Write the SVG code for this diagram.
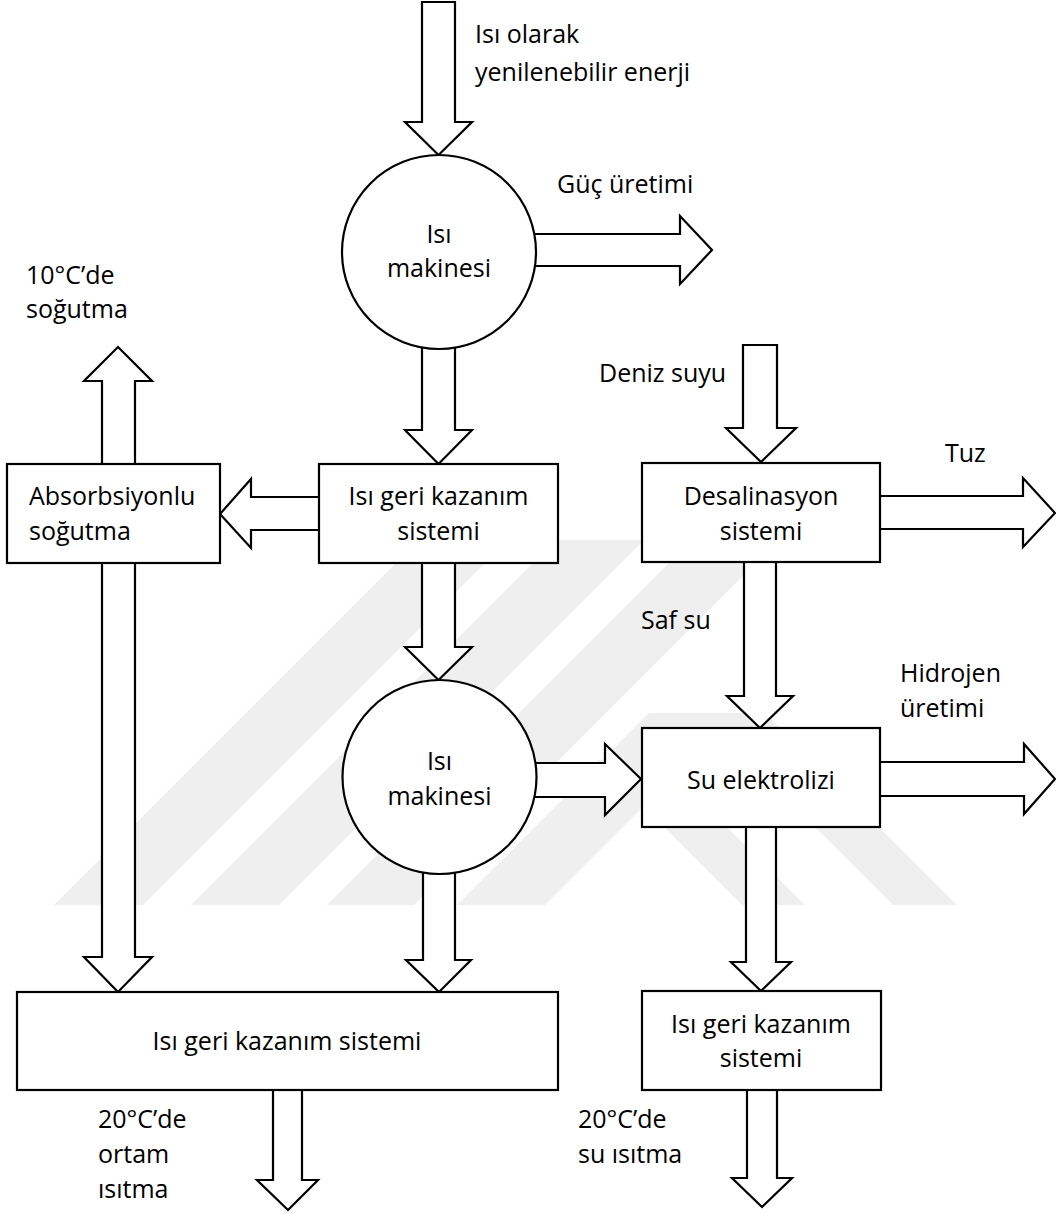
<svg xmlns="http://www.w3.org/2000/svg" width="1056" height="1214" viewBox="0 0 1056 1214">
<style>
  .shape { fill: #ffffff; stroke: #000000; stroke-width: 2.2; stroke-linejoin: miter; }
  .arrow { fill: #ffffff; stroke: #000000; stroke-width: 2.2; stroke-linejoin: miter; }
  .wm { fill: #efefef; stroke: none; }
  text { font-family: "Open Sans", "Liberation Sans", sans-serif; font-size: 25px; fill: #000000; }
  .c { text-anchor: middle; }
</style>
<rect x="0" y="0" width="1056" height="1214" fill="#ffffff"/>

<g id="watermark">
  <polygon class="wm" points="54,905 143,905 508,540 419,540"/>
  <polygon class="wm" points="191,905 279,905 644,540 556,540"/>
  <polygon class="wm" points="327,905 414,905 779,540 692,540"/>
  <polygon class="wm" points="457,905 545,905 737,713 649,713"/>
  <polygon class="wm" points="742,905 805,905 660,760 597,760"/>
  <polygon class="wm" points="893,905 957,905 765,713 701,713"/>
</g>

<g id="connectors">
  <polygon class="arrow" points="422,2 455,2 455,122 472,122 438.5,155 405,122 422,122"/>
  <polygon class="arrow" points="520,234 680,234 680,216 712,250 680,284 680,266 520,266"/>
  <polygon class="arrow" points="422,330 455,330 455,430 472,430 438.5,464 405,430 422,430"/>
  <polygon class="arrow" points="330,497 251,497 251,479 220,514 251,548 251,530 330,530"/>
  <polygon class="arrow" points="102,470 102,381 84,381 118,347 152,381 135,381 135,470"/>
  <polygon class="arrow" points="102,555 135,555 135,957 152,957 118,992 84,957 102,957"/>
  <polygon class="arrow" points="422,555 455,555 455,647 472,647 438.5,680 405,647 422,647"/>
  <polygon class="arrow" points="520,763 605,763 605,744 641,779 605,815 605,797 520,797"/>
  <polygon class="arrow" points="423,860 455,860 455,960 471,960 439,992 406,960 423,960"/>
  <polygon class="arrow" points="743,345 777,345 777,428 796,428 761,462 726,428 743,428"/>
  <polygon class="arrow" points="870,496 1023,496 1023,478 1055,513 1023,547 1023,529 870,529"/>
  <polygon class="arrow" points="744,555 776,555 776,696 793,696 760,728 727,696 744,696"/>
  <polygon class="arrow" points="870,762 1024,762 1024,744 1055,779 1024,814 1024,796 870,796"/>
  <polygon class="arrow" points="746,820 776,820 776,962 791,962 761,991 731,962 746,962"/>
  <polygon class="arrow" points="747,1085 777,1085 777,1178 792,1178 762,1207 732,1178 747,1178"/>
  <polygon class="arrow" points="273,1085 302,1085 302,1180 318,1180 288,1210 257,1180 273,1180"/>
</g>

<g id="heat-engine-1">
  <circle class="shape" cx="439" cy="252" r="97"/>
  <text class="c" x="439" y="243">Isı</text>
  <text class="c" x="439" y="277">makinesi</text>
</g>

<g id="absorption-cooling">
  <rect class="shape" x="7" y="464" width="213" height="99"/>
  <text x="29" y="505">Absorbsiyonlu</text>
  <text x="29" y="540">soğutma</text>
</g>

<g id="heat-recovery-1">
  <rect class="shape" x="319" y="464" width="239" height="99"/>
  <text class="c" x="438.5" y="505">Isı geri kazanım</text>
  <text class="c" x="438.5" y="540">sistemi</text>
</g>

<g id="desalination">
  <rect class="shape" x="642" y="463" width="238" height="99"/>
  <text class="c" x="761" y="505">Desalinasyon</text>
  <text class="c" x="761" y="540">sistemi</text>
</g>

<g id="heat-engine-2">
  <circle class="shape" cx="439.5" cy="777" r="97"/>
  <text class="c" x="439.5" y="770">Isı</text>
  <text class="c" x="439.5" y="805">makinesi</text>
</g>

<g id="electrolysis">
  <rect class="shape" x="642" y="728" width="238" height="99"/>
  <text class="c" x="761" y="789">Su elektrolizi</text>
</g>

<g id="heat-recovery-2">
  <rect class="shape" x="17" y="992" width="541" height="98"/>
  <text class="c" x="287" y="1050">Isı geri kazanım sistemi</text>
</g>

<g id="heat-recovery-3">
  <rect class="shape" x="642" y="991" width="239" height="99"/>
  <text class="c" x="761" y="1033">Isı geri kazanım</text>
  <text class="c" x="761" y="1067">sistemi</text>
</g>

<g id="labels">
  <text x="475" y="43">Isı olarak</text>
  <text x="475" y="81">yenilenebilir enerji</text>
  <text x="557" y="193">Güç üretimi</text>
  <text x="26" y="284">10°C’de</text>
  <text x="26" y="318">soğutma</text>
  <text x="599" y="382">Deniz suyu</text>
  <text x="945" y="462">Tuz</text>
  <text x="641" y="629">Saf su</text>
  <text x="900" y="682">Hidrojen</text>
  <text x="900" y="717">üretimi</text>
  <text x="98" y="1128">20°C’de</text>
  <text x="98" y="1163">ortam</text>
  <text x="98" y="1198">ısıtma</text>
  <text x="578" y="1128">20°C’de</text>
  <text x="578" y="1163">su ısıtma</text>
</g>
</svg>
